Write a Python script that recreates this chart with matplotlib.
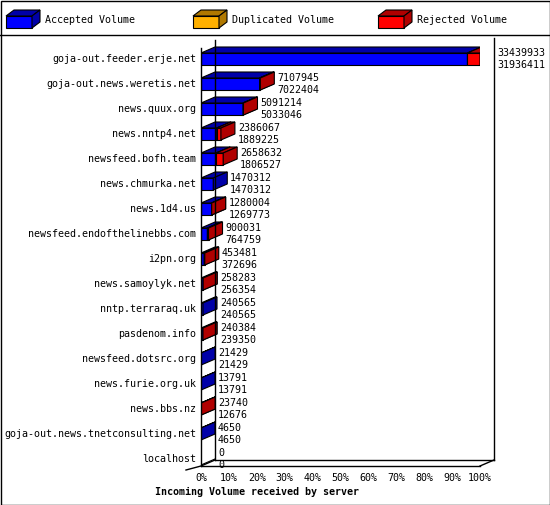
import matplotlib
matplotlib.use("Agg")
import matplotlib.pyplot as plt
from matplotlib.patches import Polygon, Rectangle

servers = ["goja-out.feeder.erje.net", "goja-out.news.weretis.net", "news.quux.org",
           "news.nntp4.net", "newsfeed.bofh.team", "news.chmurka.net", "news.1d4.us",
           "newsfeed.endofthelinebbs.com", "i2pn.org", "news.samoylyk.net",
           "nntp.terraraq.uk", "pasdenom.info", "newsfeed.dotsrc.org", "news.furie.org.uk",
           "news.bbs.nz", "goja-out.news.tnetconsulting.net", "localhost"]
offered = [33439933, 7107945, 5091214, 2386067, 2658632, 1470312, 1280004, 900031,
           453481, 258283, 240565, 240384, 21429, 13791, 23740, 4650, 0]
accepted = [31936411, 7022404, 5033046, 1889225, 1806527, 1470312, 1269773, 764759,
            372696, 256354, 240565, 239350, 21429, 13791, 12676, 4650, 0]
xticks = [0, 10, 20, 30, 40, 50, 60, 70, 80, 90, 100]
legend_labels = ["Accepted Volume", "Duplicated Volume", "Rejected Volume"]

FONT = "DejaVu Sans Mono"
FS = 7.2
W, H = 550, 505
fig = plt.figure(figsize=(W / 100, H / 100), dpi=100)

# pixel overlay axes
pa = fig.add_axes([0, 0, 1, 1])
pa.set_xlim(0, W); pa.set_ylim(H, 0); pa.axis("off")
pa.add_patch(Rectangle((0.5, 0.5), W - 1, H - 1, fill=False, lw=1, ec="black"))
pa.plot([0, W], [35, 35], color="black", lw=1)

front = {"a": "#0000ff", "d": "#ffb000", "r": "#ff0000"}
dark = {"a": "#0000a8", "d": "#b07800", "r": "#b00000"}

def box(ax, x0, x1, yc, h, dx, dy, key, trans=None):
    kw = dict(ec="black", lw=0.8)
    ax.add_patch(Rectangle((x0, yc - h / 2), x1 - x0, h, fc=front[key], **kw))
    ax.add_patch(Polygon([(x0, yc - h / 2), (x1, yc - h / 2), (x1 + dx, yc - h / 2 - dy),
                          (x0 + dx, yc - h / 2 - dy)], fc=dark[key], **kw))
    ax.add_patch(Polygon([(x1, yc - h / 2), (x1 + dx, yc - h / 2 - dy),
                          (x1 + dx, yc + h / 2 - dy), (x1, yc + h / 2)], fc=dark[key], **kw))

# legend
for lx, key, lab in zip([6, 193, 378], ["a", "d", "r"], legend_labels):
    box(pa, lx, lx + 26, 22, 12, 8, 6, key)
    pa.text(lx + 39, 20, lab, fontsize=FS, family=FONT, va="center", ha="left")

# main axes
L, R, T, B = 201, 480, 40, 466
y0c, step = 59, 25
ylo = -(y0c - T) / step
yhi = (B - y0c) / step
ax = fig.add_axes([L / W, 1 - B / H, (R - L) / W, (B - T) / H])
ax.set_xlim(0, 100); ax.set_ylim(yhi, ylo); ax.axis("off")
pxx = 100 / (R - L); pxy = 1 / step
DX, DY = 14 * pxx, 6 * pxy

# walls
ax.plot([0, 0], [yhi, ylo + 0.3], color="black", lw=1, clip_on=False)
ax.plot([DX, DX], [yhi - DY, ylo], color="black", lw=1, clip_on=False)
ax.plot([100 + DX, 100 + DX], [yhi - DY, ylo - 0.1], color="black", lw=1, clip_on=False)
ax.plot([0, 100], [yhi, yhi], color="black", lw=1, clip_on=False)
ax.plot([DX, 100 + DX], [yhi - DY, yhi - DY], color="black", lw=1, clip_on=False)
ax.plot([100, 100 + DX], [yhi, yhi - DY], color="black", lw=1, clip_on=False)
ax.plot([-6 * pxx * 2.5, 0, DX], [yhi + 4 * pxy, yhi, yhi - DY], color="black", lw=1, clip_on=False)

mx = max(offered)
h = 12 * pxy
for i, (s, o, a) in enumerate(zip(servers, offered, accepted)):
    pa_ = a / mx * 100
    po = o / mx * 100
    if a > 0:
        box(ax, 0, pa_, i, h, DX, DY, "a")
    if o > a:
        box(ax, pa_, po, i, h, DX, DY, "r")
    if o == 0:
        ax.plot([0, DX], [i + h / 2, i + h / 2 - DY], color="black", lw=0.8)
    tx = po + DX + 3 * pxx
    ax.text(tx, i - 6 * pxy, str(o), fontsize=FS, family=FONT, va="center", ha="left", clip_on=False)
    ax.text(tx, i + 6 * pxy, str(a), fontsize=FS, family=FONT, va="center", ha="left", clip_on=False)
    ax.text(-5 * pxx, i, s, fontsize=FS, family=FONT, va="center", ha="right", clip_on=False)

for t in xticks:
    ax.text(t, yhi + 12 * pxy, f"{t}%", fontsize=FS, family=FONT, va="center", ha="center", clip_on=False)

pa.text(155, 492, "Incoming Volume received by server", fontsize=FS, family=FONT,
        weight="bold", va="center", ha="left")

fig.savefig("out.png", dpi=100)
